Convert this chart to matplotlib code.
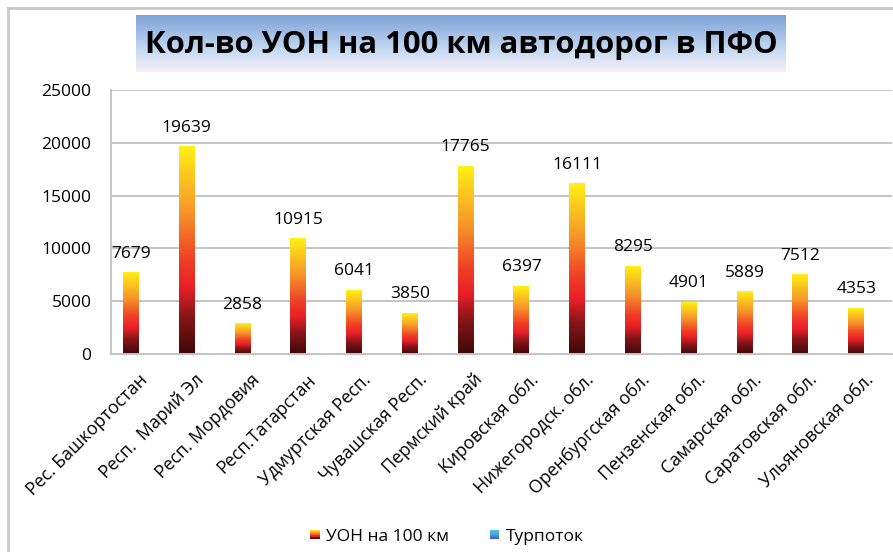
import matplotlib
matplotlib.use("Agg")
import matplotlib.pyplot as plt
import numpy as np
from matplotlib.colors import LinearSegmentedColormap
from matplotlib.patches import Rectangle
from matplotlib.lines import Line2D
from matplotlib.legend_handler import HandlerBase

plt.rcParams["font.family"] = ["Open Sans", "DejaVu Sans"]

regions = ["Рес. Башкортостан", "Респ.  Марий Эл", "Респ. Мордовия", "Респ.Татарстан",
           "Удмуртская Респ.", "Чувашская Респ.", "Пермский край", "Кировская обл.",
           "Нижегородск. обл.", "Оренбургская обл.", "Пензенская обл.", "Самарская обл.",
           "Саратовская обл.", "Ульяновская обл."]
uon_per_100km = [7679, 19639, 2858, 10915, 6041, 3850, 17765, 6397,
                 16111, 8295, 4901, 5889, 7512, 4353]
title = "Кол-во УОН на 100 км автодорог в ПФО"
series_names = ["УОН на 100 км", "Турпоток"]

fire = LinearSegmentedColormap.from_list("fire", [
    (0.0, "#3f0809"), (0.18, "#861618"), (0.32, "#ea1f27"),
    (0.45, "#ef3e25"), (0.68, "#f6942a"), (1.0, "#fff014")])
blue = LinearSegmentedColormap.from_list("blue", ["#3e5aa6", "#4fa0d6", "#46c2e6"])
sky = LinearSegmentedColormap.from_list("sky", [
    (0.0, "#f8eef6"), (0.35, "#c9dcf2"), (1.0, "#7ea2d9")])


class GradientHandler(HandlerBase):
    def __init__(self, cmap):
        super().__init__()
        self.cmap = cmap

    def create_artists(self, legend, orig_handle, xdescent, ydescent,
                       width, height, fontsize, trans):
        side = 7.0
        x0 = -xdescent + width - side
        y0 = -ydescent + (height - side) / 2
        n = 14
        return [Rectangle((x0, y0 + i * side / n), side, side / n * 1.05,
                          facecolor=self.cmap(i / (n - 1)), edgecolor="none",
                          transform=trans) for i in range(n)]


W, H = 893, 552
fig = plt.figure(figsize=(W / 100, H / 100), dpi=100)

# chart frame (grey border at top/left)
fig.add_artist(Line2D([8 / W, 8 / W], [0, 1 - 8 / H], color="#c8c8c8", lw=2))
fig.add_artist(Line2D([8 / W, 1], [1 - 8 / H, 1 - 8 / H], color="#c8c8c8", lw=2))

# title box with gradient
tax = fig.add_axes([136 / W, 1 - 72 / H, (786 - 136) / W, (72 - 15) / H])
tax.imshow(np.linspace(0, 1, 100).reshape(-1, 1), cmap=sky, aspect="auto",
           origin="lower", extent=[0, 1, 0, 1])
tax.set_xlim(0, 1)
tax.set_ylim(0, 1)
tax.axis("off")
tax.text(0.5, 0.48, title, ha="center", va="center", fontsize=22.3,
         fontweight="bold", color="black")

ax = fig.add_axes([111 / W, 1 - 354 / H, (892 - 111) / W, (354 - 90) / H])
x = np.arange(len(regions))
bw = 0.286
bars = ax.bar(x - bw, uon_per_100km, width=bw, align="edge", color="none",
              edgecolor="none", zorder=2)
grad = np.linspace(0, 1, 256).reshape(-1, 1)
for b in bars:
    x0, y0 = b.get_x(), b.get_y()
    ax.imshow(grad, cmap=fire, aspect="auto", origin="lower", zorder=2,
              extent=[x0, x0 + b.get_width(), y0, y0 + b.get_height()])
for xi, v in zip(x, uon_per_100km):
    ax.annotate(str(v), (xi - bw / 2, v), xytext=(0, 8), textcoords="offset points",
                ha="center", va="bottom", fontsize=12.5)

ax.set_xlim(-0.5, len(regions) - 0.5)
ax.set_ylim(0, 25000)
ax.set_yticks(np.arange(0, 25001, 5000))
ax.yaxis.grid(True, color="#c4c4c4", lw=1.4, zorder=0)
ax.set_axisbelow(True)
for s in ["top", "right"]:
    ax.spines[s].set_visible(False)
for s in ["left", "bottom"]:
    ax.spines[s].set_color("#c4c4c4")
    ax.spines[s].set_linewidth(1.4)
ax.tick_params(axis="y", length=0, pad=14, labelsize=12.5)
ax.tick_params(axis="x", length=0, pad=12, labelsize=12.8)
ax.set_xticks(x)
ax.set_xticklabels(regions, rotation=45, ha="right", rotation_mode="anchor")

h1 = Rectangle((0, 0), 1, 1)
h2 = Rectangle((0, 0), 1, 1)
fig.legend([h1, h2], series_names, loc="center", bbox_to_anchor=(0.5, 0.028),
           ncol=2, frameon=False, fontsize=12.5, handlelength=0.6,
           handletextpad=0.35, columnspacing=2.3,
           handler_map={h1: GradientHandler(fire), h2: GradientHandler(blue)})

fig.savefig("out.png", dpi=100)
